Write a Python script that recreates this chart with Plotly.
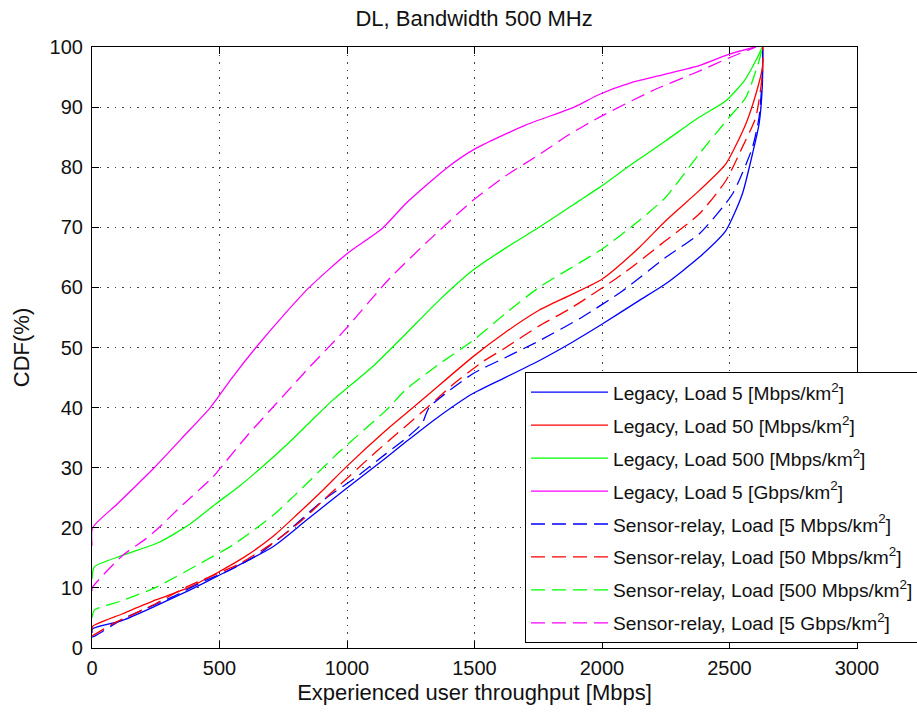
import plotly.graph_objects as go

# ---- data (throughput in Mbps, CDF in %) ----
leg5_x = [0, 2, 120, 250, 381, 512, 708, 839, 996, 1152, 1231, 1350, 1492, 1620, 1753, 1880, 2001, 2145, 2250, 2381, 2485, 2550, 2590, 2616, 2629, 2630]
leg5_y = [2.5, 3.2, 4.6, 7.0, 9.6, 12.4, 16.8, 21.2, 26.5, 31.6, 34.3, 38.2, 42.3, 45.0, 47.8, 50.8, 53.9, 57.8, 60.6, 65.0, 69.4, 75.5, 82.2, 87.2, 93.8, 100]

leg50_x = [0, 2, 120, 250, 381, 486, 600, 708, 804, 904, 996, 1152, 1309, 1492, 1620, 1753, 1880, 2001, 2145, 2250, 2381, 2485, 2564, 2603, 2629, 2630]
leg50_y = [3.0, 3.6, 5.7, 8.0, 10.1, 12.4, 15.2, 18.5, 22.2, 26.2, 30.1, 36.2, 41.8, 48.4, 52.5, 56.2, 58.8, 61.4, 66.6, 71.1, 76.1, 80.5, 87.2, 92.1, 96.6, 100]

leg500_x = [0, 9, 120, 264, 380, 486, 580, 669, 773, 860, 943, 1100, 1231, 1360, 1492, 1620, 1753, 1910, 1989, 2120, 2250, 2381, 2485, 2560, 2603, 2629]
leg500_y = [11.5, 13.5, 15.4, 17.6, 20.5, 24.0, 27.0, 30.2, 34.2, 37.8, 41.2, 46.8, 52.3, 57.8, 62.8, 66.5, 70.0, 74.4, 76.6, 80.6, 84.4, 88.3, 91.0, 94.5, 97.7, 100]

leg5g_x = [0, 2, 100, 244, 350, 464, 550, 643, 750, 852, 1000, 1138, 1232, 1389, 1500, 1700, 1891, 1989, 2118, 2250, 2381, 2499, 2600]
leg5g_y = [17.0, 20.0, 24.0, 30.0, 34.8, 40.0, 45.0, 50.0, 55.3, 60.0, 65.6, 69.8, 74.0, 79.8, 83.0, 87.0, 90.0, 92.1, 94.1, 95.5, 96.9, 98.8, 100]

sr5_x = [0, 16, 120, 316, 447, 538, 660, 773, 904, 1035, 1152, 1240, 1295, 1322, 1492, 1620, 1753, 1920, 2080, 2250, 2381, 2511, 2590, 2616, 2629, 2630]
sr5_y = [1.8, 2.1, 4.8, 8.5, 11.3, 12.9, 15.8, 19.6, 24.5, 28.4, 32.3, 35.2, 37.4, 40.0, 45.6, 48.3, 51.1, 55.0, 59.4, 65.0, 68.9, 75.5, 83.3, 88.3, 95.5, 100]

sr50_x = [0, 16, 81, 251, 368, 577, 721, 830, 930, 1113, 1309, 1420, 1531, 1623, 1750, 1884, 2080, 2250, 2381, 2485, 2550, 2603, 2629, 2630]
sr50_y = [2.0, 2.4, 4.0, 7.4, 10.1, 14.0, 17.8, 21.5, 25.5, 32.6, 39.8, 44.0, 47.6, 50.0, 53.5, 56.7, 62.2, 67.8, 72.2, 77.7, 83.3, 88.3, 95.5, 100]

sr500_x = [0, 9, 120, 251, 447, 551, 708, 800, 969, 1152, 1231, 1360, 1492, 1620, 1753, 2001, 2145, 2250, 2381, 2499, 2564, 2616, 2629]
sr500_y = [5.0, 6.3, 7.9, 10.1, 14.6, 17.1, 22.0, 25.6, 32.6, 39.5, 43.0, 47.2, 51.1, 55.6, 60.0, 66.4, 71.1, 75.0, 82.2, 88.3, 91.6, 97.7, 100]

sr5g_x = [0, 2, 120, 212, 251, 360, 473, 505, 610, 721, 850, 989, 1165, 1330, 1492, 1620, 1750, 1870, 1989, 2196, 2381, 2499, 2604]
sr5g_y = [9.5, 10.1, 15.4, 18.2, 19.6, 24.0, 28.4, 30.0, 35.4, 40.6, 46.6, 52.8, 61.4, 68.2, 74.4, 78.5, 82.0, 85.4, 88.3, 92.7, 96.0, 98.2, 100]

series = [
    ("Legacy, Load 5 [Mbps/km<sup>2</sup>]", leg5_x, leg5_y, "#0000ff", "solid"),
    ("Legacy, Load 50 [Mbps/km<sup>2</sup>]", leg50_x, leg50_y, "#ff0000", "solid"),
    ("Legacy, Load 500 [Mbps/km<sup>2</sup>]", leg500_x, leg500_y, "#00ff00", "solid"),
    ("Legacy, Load 5 [Gbps/km<sup>2</sup>]", leg5g_x, leg5g_y, "#ff00ff", "solid"),
    ("Sensor-relay, Load [5 Mbps/km<sup>2</sup>]", sr5_x, sr5_y, "#0000ff", "14px,7px"),
    ("Sensor-relay, Load [50 Mbps/km<sup>2</sup>]", sr50_x, sr50_y, "#ff0000", "14px,7px"),
    ("Sensor-relay, Load [500 Mbps/km<sup>2</sup>]", sr500_x, sr500_y, "#00ff00", "14px,7px"),
    ("Sensor-relay, Load [5 Gbps/km<sup>2</sup>]", sr5g_x, sr5g_y, "#ff00ff", "14px,7px"),
]

fig = go.Figure()
for i, (name, xs, ys, col, dash) in enumerate(series):
    fig.add_trace(go.Scatter(x=xs, y=ys, mode="lines", name=name,
                             legendgroup=f"g{i}",
                             line=dict(color=col, width=1.3, dash=dash, shape="spline", smoothing=0.6)))

font = "Arial, Liberation Sans, sans-serif"
axis_common = dict(
    showline=True, linecolor="black", linewidth=1.2, mirror="ticks",
    ticks="inside", ticklen=7, tickcolor="black",
    showgrid=True, gridcolor="#444444", gridwidth=1, griddash="1.5px,6px",
    zeroline=False, tickfont=dict(family=font, size=20, color="#111111"),
)

fig.update_layout(
    width=917, height=713,
    margin=dict(l=92, r=60, t=47, b=65, autoexpand=False),
    paper_bgcolor="white", plot_bgcolor="white",
    title=dict(text="DL, Bandwidth 500 MHz", x=0.517, xanchor="center", y=0.975, yanchor="middle",
               font=dict(family=font, size=22, color="#111111")),
    xaxis=dict(range=[0, 3000], dtick=500, **axis_common,
               ticklabelstandoff=2,
               title=dict(text="Experienced user throughput [Mbps]", standoff=6,
                          font=dict(family=font, size=22, color="#111111"))),
    yaxis=dict(range=[0, 100], dtick=10, **axis_common,
               ticklabelstandoff=4,
               title=dict(text="CDF(%)", standoff=13,
                          font=dict(family=font, size=22, color="#111111"))),
    legend=dict(x=0.566, y=0.008, xanchor="left", yanchor="bottom",
                bgcolor="white", bordercolor="black", borderwidth=1,
                font=dict(family=font, size=19.2, color="#111111"),
                itemwidth=77, tracegroupgap=5),
    showlegend=True,
)

fig.write_html("out.html")
